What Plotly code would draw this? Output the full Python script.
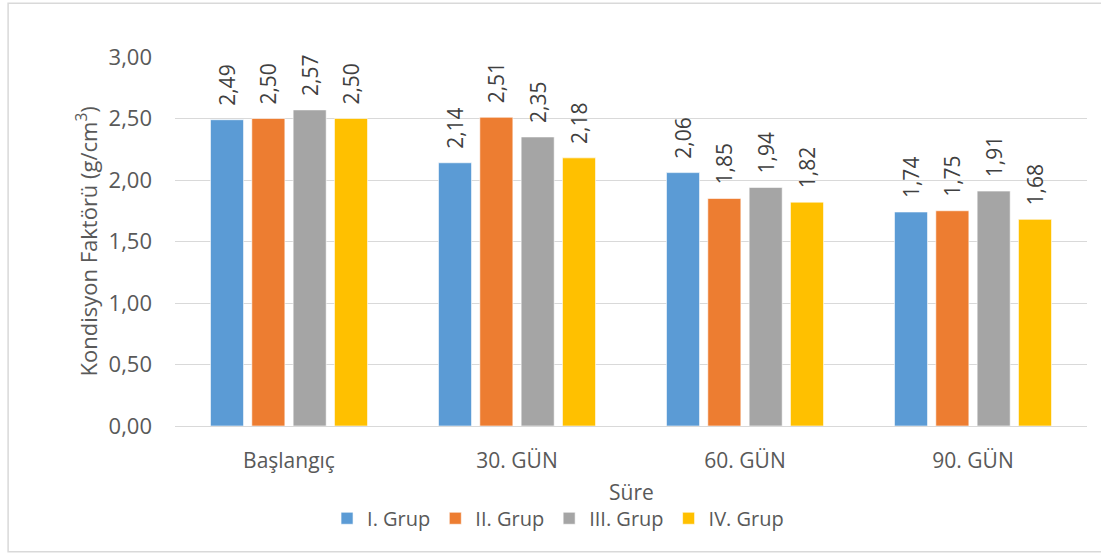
import plotly.graph_objects as go

# Condition factor by sampling period and group
categories = ["Başlangıç", "30. GÜN", "60. GÜN", "90. GÜN"]
group_names = ["I. Grup", "II. Grup", "III. Grup", "IV. Grup"]
grup_1 = [2.49, 2.14, 2.06, 1.74]
grup_2 = [2.50, 2.51, 1.85, 1.75]
grup_3 = [2.57, 2.35, 1.94, 1.91]
grup_4 = [2.50, 2.18, 1.82, 1.68]
colors = ["#5B9BD5", "#ED7D31", "#A5A5A5", "#FFC000"]

series = [grup_1, grup_2, grup_3, grup_4]

FONT = "Open Sans"
TEXT = "#595959"
PAD = "\u00a0\u00a0"  # small gap between bar top and its rotated label

fig = go.Figure()
for name, vals, col in zip(group_names, series, colors):
    fig.add_trace(go.Bar(
        x=categories, y=vals, name=name,
        marker=dict(color=col, line=dict(color="rgba(255,255,255,0.6)", width=1)),
        text=[PAD + f"{v:.2f}".replace(".", ",") for v in vals],
        textposition="outside", textangle=-90, constraintext="none",
        textfont=dict(family=FONT, size=21, color="#404040"),
        cliponaxis=False,
    ))

fig.update_layout(
    width=1101, height=554,
    margin=dict(l=175, r=14, t=57, b=128, autoexpand=False),
    paper_bgcolor="white", plot_bgcolor="white",
    barmode="group", bargap=0.275, bargroupgap=0.2,
    separators=",.",
    font=dict(family=FONT, color=TEXT),
    showlegend=True,
    legend=dict(orientation="h", x=0.42, xanchor="center", y=-0.25, yanchor="middle",
                font=dict(family=FONT, size=20, color=TEXT),
                itemwidth=30, traceorder="normal", tracegroupgap=0),
    uniformtext=dict(mode=False),
    annotations=[
        dict(text="Süre", xref="paper", yref="paper", x=0.5, y=-0.178,
             xanchor="center", yanchor="middle", showarrow=False,
             font=dict(family=FONT, size=21, color=TEXT)),
        dict(text="Kondisyon Faktörü (g/cm<sup>3</sup>)", xref="paper", yref="paper",
             x=-0.0965, y=0.5, xanchor="center", yanchor="middle", textangle=-90,
             showarrow=False, font=dict(family=FONT, size=22, color=TEXT)),
    ],
)
fig.update_xaxes(
    showgrid=False, showline=True, linecolor="#D9D9D9", linewidth=1,
    tickfont=dict(family=FONT, size=21, color=TEXT), ticks="",
    ticklabelstandoff=16, automargin=False,
)
fig.update_yaxes(
    range=[0, 3.0], dtick=0.5, tickformat=".2f",
    showgrid=True, gridcolor="#D9D9D9", gridwidth=1,
    zeroline=False, showline=False, ticks="",
    tickfont=dict(family=FONT, size=22, color=TEXT),
    ticklabelstandoff=22, automargin=False,
)
# Chart frame
fig.add_shape(type="rect", xref="paper", yref="paper",
              x0=-0.183, x1=1.03, y0=-0.341, y1=1.146,
              line=dict(color="#D9D9D9", width=1.5), fillcolor="rgba(0,0,0,0)",
              layer="below")

fig.write_html("out.html")
